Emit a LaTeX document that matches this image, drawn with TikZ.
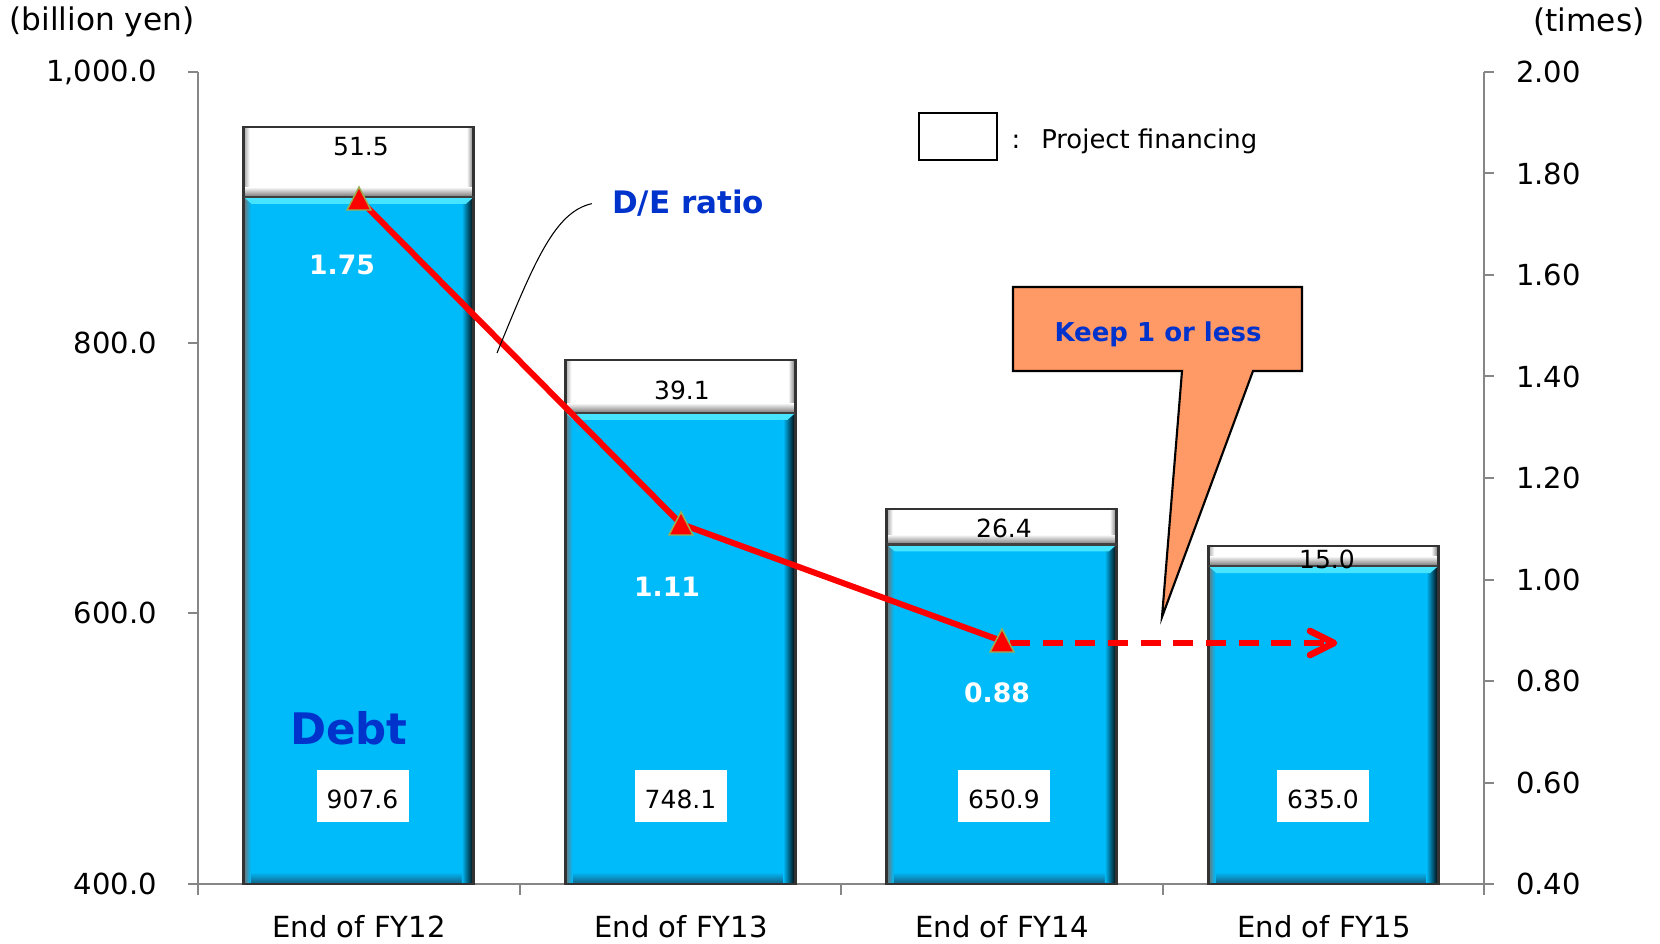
\documentclass[tikz,border=0pt]{standalone}
\usepackage{fontspec}
\setmainfont{DejaVu Sans}
\usetikzlibrary{calc}

\definecolor{barblue}{RGB}{0,187,250}
\definecolor{barlight}{RGB}{70,228,255}
\definecolor{bardark}{RGB}{20,95,130}
\definecolor{axisgray}{RGB}{134,134,134}
\definecolor{textblue}{RGB}{0,51,204}
\definecolor{calloutfill}{RGB}{255,153,102}
\definecolor{markeredge}{RGB}{155,175,80}
\definecolor{lineRed}{RGB}{255,0,0}

% one stacked bar: #1 centre x, #2 top of project financing, #3 top of debt, #4 base
\newcommand\drawstack[4]{%
  \pgfmathsetmacro\barL{#1-115}\pgfmathsetmacro\barR{#1+115}%
  % project financing segment
  \fill[white] (\barL,#2) rectangle (\barR,#3);
  \shade[top color=white, bottom color=black!55] (\barL,{#3-10}) rectangle (\barR,#3);
  \shade[left color=black!35, right color=white] (\barL,#2) rectangle ({\barL+6},{#3-10});
  \shade[left color=white, right color=black!55] ({\barR-7},#2) rectangle (\barR,{#3-10});
  % debt segment
  \fill[barblue] (\barL,#3) rectangle (\barR,#4);
  \shade[top color=barblue, bottom color=bardark] (\barL,{#4-12}) rectangle (\barR,#4);
  \shade[left color=barblue, middle color=bardark, right color=black] ({\barR-12},#3) rectangle (\barR,#4);
  \shade[left color=black!55, right color=barblue] (\barL,#3) rectangle ({\barL+7},#4);
  \fill[barlight] (\barL,#3) -- (\barR,#3) -- ({\barR-8},{#3+7}) -- ({\barL+8},{#3+7}) -- cycle;
  % outline
  \draw[black!80, line width=2pt] (\barL,#2) rectangle (\barR,#4);
  \draw[black!75, line width=1.6pt] (\barL,#3) -- (\barR,#3);
}

\tikzset{
  axisline/.style={axisgray, line width=1.5pt},
  lefttick/.style={anchor=east, inner sep=0pt, font=\fontsize{21.75}{26}\selectfont},
  righttick/.style={anchor=west, inner sep=0pt, font=\fontsize{21.75}{26}\selectfont},
  unitlabel/.style={inner sep=0pt, font=\fontsize{23.4}{28}\selectfont},
  catlabel/.style={inner sep=0pt, font=\fontsize{21.8}{26}\selectfont},
  pflabel/.style={inner sep=0pt, font=\fontsize{18.75}{22}\selectfont},
  valbox/.style={fill=white, inner sep=0pt, minimum width=69pt, minimum height=39pt},
  valtext/.style={inner sep=0pt, font=\fontsize{18.75}{22}\selectfont},
  ratiolabel/.style={inner sep=0pt, text=white, font=\bfseries\fontsize{20}{24}\selectfont},
  ratioline/.style={lineRed, line width=4.5pt, line join=round},
  marker/.style={fill=lineRed, draw=markeredge, line width=1.1pt, line join=miter},
}

\begin{document}
\begin{tikzpicture}[x=0.75pt, y=-0.75pt]
\useasboundingbox (0,0) rectangle (1660,944);

% ---- axes ----
\draw[axisline] (198,72) -- (198,884);
\draw[axisline] (1484,72) -- (1484,884);
\draw[axisline] (188,884) -- (1494,884);
\foreach \yy in {72,342.67,613.33,884} \draw[axisline] (188,\yy) -- (198,\yy);
\foreach \k in {0,...,8} \draw[axisline] (1484,{72+\k*101.5}) -- (1494,{72+\k*101.5});
\foreach \xx in {198,519.5,841,1162.5,1484} \draw[axisline] (\xx,884) -- (\xx,895);

% ---- left axis labels ----
\node[lefttick] (l1000) at (157,72) {1,000.0};
\node[lefttick] (l800) at (157,342.67) {800.0};
\node[lefttick] (l600) at (157,613.33) {600.0};
\node[lefttick] (l400) at (157,884) {400.0};
\node[unitlabel] (unitL) at (102,22) {(billion yen)};

% ---- right axis labels ----
\foreach \lab [count=\k from 0] in {2.00,1.80,1.60,1.40,1.20,1.00,0.80,0.60,0.40}
  \node[righttick] (r\k) at (1516,{72+\k*101.5}) {\lab};
\node[unitlabel] (unitR) at (1589,22) {(times)};

% ---- bars ----
\drawstack{358.75}{127}{197}{884}
\drawstack{680.25}{360}{413}{884}
\drawstack{1001.75}{509}{544.5}{884}
\drawstack{1323.25}{546}{566}{884}

% project financing values
\node[pflabel] (pf12) at (361,147) {51.5};
\node[pflabel] (pf13) at (682,390) {39.1};
\node[pflabel] (pf14) at (1004,528) {26.4};
\node[pflabel] (pf15) at (1327,559) {15.0};

% debt values
\node[valbox] (d12) at (362.5,796) {};
\node[valbox] (d13) at (680.5,796) {};
\node[valbox] (d14) at (1004,796) {};
\node[valbox] (d15) at (1323,796) {};
\node[valtext] at ($(d12.center)+(0,3)$) {907.6};
\node[valtext] at ($(d13.center)+(0,3)$) {748.1};
\node[valtext] at ($(d14.center)+(0,3)$) {650.9};
\node[valtext] at ($(d15.center)+(0,3)$) {635.0};

% category labels
\node[catlabel] (c12) at (359,927) {End of FY12};
\node[catlabel] (c13) at (681,927) {End of FY13};
\node[catlabel] (c14) at (1002,927) {End of FY14};
\node[catlabel] (c15) at (1324,927) {End of FY15};

\node[inner sep=0pt, text=textblue, font=\bfseries\fontsize{32.6}{38}\selectfont] (debt) at (349,728) {Debt};

% ---- D/E ratio line ----
\coordinate (p12) at (359,199);
\coordinate (p13) at (681,524);
\coordinate (p14) at (1002,641);
\coordinate (goal) at (1334,643);
\draw[ratioline] (p12) -- (p13) -- (p14);
\draw[lineRed, line width=4.8pt, dash pattern=on 15pt off 9.5pt] (p14) ++(8,2) -- ($(goal)+(-6,0)$);
\draw[lineRed, line width=5pt, line cap=round, line join=round] (goal) ++(-24,-12) -- (goal) -- ++(-24,12);
\foreach \p in {p12,p13,p14}
  \draw[marker] (\p) ++(0,-12) -- ++(12,23) -- ++(-24,0) -- cycle;

\node[ratiolabel] (r12) at (342,265) {1.75};
\node[ratiolabel] (r13) at (667,587) {1.11};
\node[ratiolabel] (r14) at (997,693) {0.88};

% D/E ratio caption with leader
\node[inner sep=0pt, anchor=base, text=textblue, font=\bfseries\fontsize{23.25}{28}\selectfont] (delabel) at (688,214) {D/E ratio};
\coordinate (leadEnd) at (497,353);
\draw[black, line width=0.8pt] ($(delabel.west)+(-20,0)$) .. controls (555,212) and (535,260) .. (leadEnd);

% ---- legend ----
\node[draw=black, line width=1.9pt, minimum width=58.5pt, minimum height=35.25pt, inner sep=0pt] (legbox) at (958,136.5) {};
\node[anchor=base, inner sep=0pt, font=\fontsize{19.4}{23}\selectfont] (legcolon) at (1016,149) {:};
\node[anchor=base west, inner sep=0pt, font=\fontsize{19.4}{23}\selectfont] (legtext) at (1041,149) {Project financing};

% ---- target callout ----
\draw[fill=calloutfill, draw=black, line width=1.6pt, line join=miter]
  (1013,287) -- (1302,287) -- (1302,371) -- (1253,371) -- (1162,617) -- (1182,371) -- (1013,371) -- cycle;
\node[anchor=base, inner sep=0pt, text=textblue, font=\bfseries\fontsize{19.5}{24}\selectfont] (keep) at (1158,342) {Keep 1 or less};

\end{tikzpicture}
\end{document}
